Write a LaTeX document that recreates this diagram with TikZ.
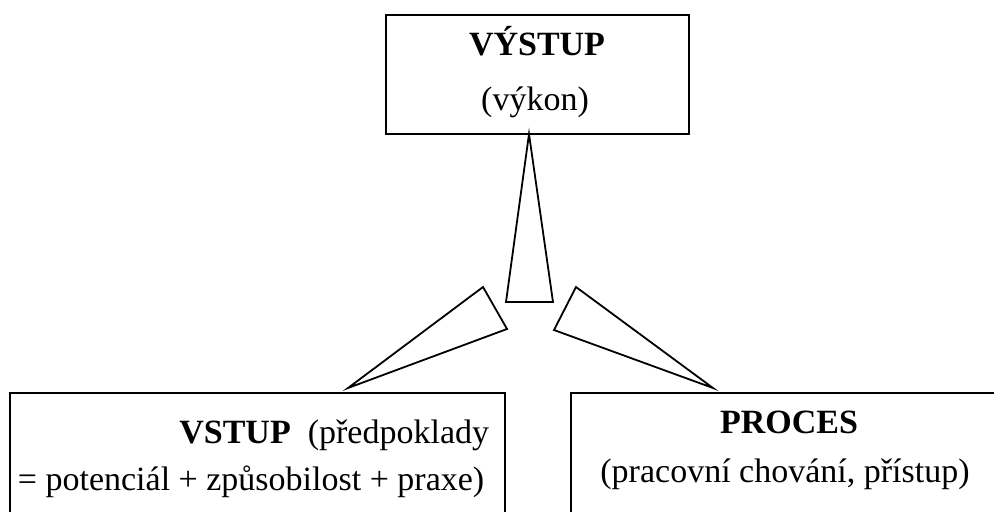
\documentclass[tikz,border=0pt]{standalone}
\usepackage{fontspec}
\setmainfont{Liberation Serif}
\begin{document}
\begin{tikzpicture}[x=0.5pt, y=0.5pt, line width=0.9pt,
      font=\fontsize{17}{20}\selectfont,
      box/.style={draw, inner sep=0pt, outer sep=0pt, anchor=south west},
      txt/.style={inner sep=0pt, anchor=base},
      wedge/.style={draw, line join=miter}]
    \useasboundingbox (0,0) rectangle (994,511);
    \clip (0,0) rectangle (994,511);
    % boxes
    \node[box, minimum width=151.5pt, minimum height=59.5pt] (vystup) at (386,377) {};
    \node[box, minimum width=247.5pt, minimum height=74pt] (vstup) at (10,-30) {};
    \node[box, minimum width=225pt, minimum height=74pt] (proces) at (571,-30) {};
    % texts
    \node[txt] (vystupA) at (537,456) {\bfseries VÝSTUP};
    \node[txt] (vystupB) at (535,401) {(výkon)};
    \node[txt, anchor=base east] (vstupA) at (490,68) {\textbf{VSTUP}\ \ (předpoklady};
    \node[txt, anchor=base west] (vstupB) at (17,21) {= potenciál + způsobilost + praxe)};
    \node[txt] (procesA) at (789,78) {\bfseries PROCES};
    \node[txt] (procesB) at (785,29) {(pracovní chování, přístup)};
    % wedges
    \draw[wedge] (529,377) -- (506,209) -- (553,209) -- cycle;
    \draw[wedge] (348,123) -- (483,224) -- (507,182) -- cycle;
    \draw[wedge] (713,123) -- (576,224) -- (554,181) -- cycle;
\end{tikzpicture}
\end{document}
